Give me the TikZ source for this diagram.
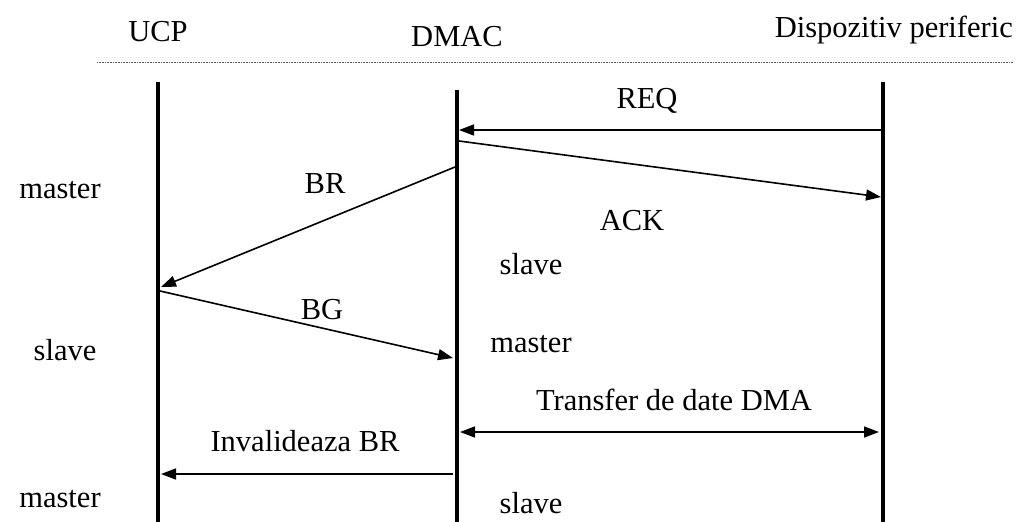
\documentclass[tikz,border=0pt]{standalone}
\usepackage{fontspec}
\setmainfont{Liberation Serif}
\usetikzlibrary{arrows.meta}
\tikzset{
    lifeline/.style={line width=4pt},
    msg/.style={line width=1.6pt, -{Triangle[length=15pt,width=11pt]}},
    msgboth/.style={line width=1.6pt, {Triangle[length=15pt,width=11pt]}-{Triangle[length=15pt,width=11pt]}},
    lbl/.style={font=\fontsize{30.5}{34}\selectfont, inner sep=0pt}
}
\begin{document}
\begin{tikzpicture}[x=1pt, y=-1pt]
            \useasboundingbox (0,0) rectangle (1018,522);
            % Headers
            \node[lbl] (ucp) at (158,32) {UCP};
            \node[lbl] (dmac) at (457,37) {DMAC};
            \node[lbl, anchor=east] (per) at (1013,30) {Dispozitiv periferic};
            \coordinate (sepL) at (97,62);
            \coordinate (sepR) at (1013,62);
            \draw[densely dotted, line width=0.6pt, gray!70!black] (sepL) -- (sepR);

            % Lifelines
            \coordinate (Ut) at (158,82);  \coordinate (Ub) at (158,524);
            \coordinate (Dt) at (457,90);  \coordinate (Db) at (457,524);
            \coordinate (Pt) at (883,82);  \coordinate (Pb) at (883,524);
            \draw[lifeline] (Ut) -- (Ub);
            \draw[lifeline] (Dt) -- (Db);
            \draw[lifeline] (Pt) -- (Pb);

            % Message end points
            \coordinate (req1) at (881,130);  \coordinate (req2) at (459,130);
            \coordinate (ack1) at (459,141);  \coordinate (ack2) at (881,197);
            \coordinate (br1) at (455,167);   \coordinate (br2) at (161,287);
            \coordinate (bg1) at (160,291);   \coordinate (bg2) at (453,358);
            \coordinate (tr1) at (460,432);   \coordinate (tr2) at (879,432);
            \coordinate (inv1) at (453,474);  \coordinate (inv2) at (161,474);

            % Messages
            \draw[msg] (req1) -- (req2); % REQ
            \draw[msg] (ack1) -- (ack2); % ACK
            \draw[msg] (br1) -- (br2); % BR
            \draw[msg] (bg1) -- (bg2); % BG
            \draw[msgboth] (tr1) -- (tr2); % transfer
            \draw[msg] (inv1) -- (inv2); % invalideaza BR

            % Message labels
            \node[lbl] (lreq) at (647,101) {REQ};
            \node[lbl] (lack) at (632,221) {ACK};
            \node[lbl] (lbr) at (325,184) {BR};
            \node[lbl] (lbg) at (322,310) {BG};
            \node[lbl] (ltr) at (674,400) {Transfer de date DMA};
            \node[lbl] (linv) at (305,441) {Invalideaza BR};

            % States
            \node[lbl] (s1) at (60,190) {master};
            \node[lbl] (s2) at (65,350) {slave};
            \node[lbl] (s3) at (60,499) {master};
            \node[lbl] (s4) at (531,264) {slave};
            \node[lbl] (s5) at (531,344) {master};
            \node[lbl] (s6) at (531,503) {slave};
        \end{tikzpicture}
\end{document}
